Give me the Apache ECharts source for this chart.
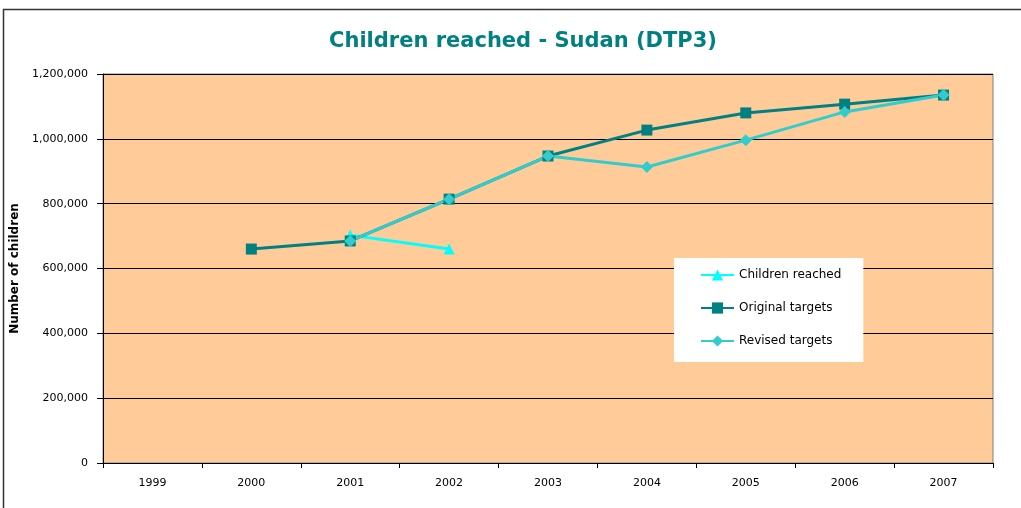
<!DOCTYPE html>
<html>
<head>
<meta charset="utf-8">
<script src="https://cdn.jsdelivr.net/npm/echarts@6/dist/echarts.min.js"></script>
<style>
  html, body { margin: 0; padding: 0; background: #fff; }
  #root { width: 1021px; height: 508px; }
</style>
</head>
<body>
<div id="root"></div>
<script>
const years = ['1999', '2000', '2001', '2002', '2003', '2004', '2005', '2006', '2007']
// 读图估计的数值
const childrenReached = [null, null, 703000, 660000, null, null, null, null, null]
const originalTargets = [null, 660000, 685000, 814000, 947000, 1027000, 1080000, 1107000, 1135000]
const revisedTargets = [null, null, 685000, 814000, 947000, 913000, 996000, 1083000, 1135000]

const font = '"DejaVu Sans", Verdana, sans-serif'

const myChart = echarts.init(document.getElementById('root'))

const option = {
  animation: false,
  textStyle: { fontFamily: font },
  graphic: [{
    type: 'rect',
    shape: { x: 3.5, y: 9.5, width: 1100, height: 600 },
    style: { fill: null, stroke: '#333', lineWidth: 1.5 },
    silent: true
  }],
  title: {
    text: 'Children reached - Sudan (DTP3)',
    left: 518,
    top: 26,
    textAlign: 'center',
    textStyle: { color: '#008080', fontSize: 21, fontWeight: 'bold', fontFamily: font }
  },
  grid: {
    left: 103,
    right: 28,
    top: 74,
    bottom: 45,
    show: true,
    backgroundColor: '#FFCC99',
    borderColor: '#808080',
    borderWidth: 1
  },
  legend: {
    orient: 'vertical',
    left: 674,
    top: 258,
    backgroundColor: '#fff',
    padding: [11, 22, 15, 26],
    itemGap: 21,
    itemWidth: 33,
    itemHeight: 14,
    textStyle: { fontSize: 12, color: '#000', fontFamily: font },
    data: ['Children reached', 'Original targets', 'Revised targets']
  },
  xAxis: {
    type: 'category',
    data: years,
    axisLine: { lineStyle: { color: '#000', width: 1 } },
    axisTick: { show: true, length: 5, lineStyle: { color: '#000' } },
    axisLabel: { color: '#000', fontSize: 11, margin: 15 }
  },
  yAxis: {
    type: 'value',
    min: 0,
    max: 1200000,
    interval: 200000,
    name: 'Number of children',
    nameLocation: 'middle',
    nameGap: 80,
    nameTextStyle: { fontSize: 12, fontWeight: 'bold', color: '#000' },
    axisLine: { show: true, lineStyle: { color: '#000', width: 1 } },
    axisTick: { show: true, length: 6, lineStyle: { color: '#000' } },
    axisLabel: {
      color: '#000',
      fontSize: 11,
      margin: 15,
      formatter: (v) => v.toLocaleString('en-US')
    },
    splitLine: { lineStyle: { color: '#000', width: 1 } }
  },
  series: [
    {
      name: 'Children reached',
      type: 'line',
      data: childrenReached,
      symbol: 'triangle',
      symbolSize: 11,
      color: '#00FFFF',
      lineStyle: { width: 3, color: '#00FFFF' },
      itemStyle: { color: '#00FFFF' }
    },
    {
      name: 'Original targets',
      type: 'line',
      data: originalTargets,
      symbol: 'rect',
      symbolSize: 11,
      color: '#008080',
      lineStyle: { width: 3, color: '#008080' },
      itemStyle: { color: '#008080' }
    },
    {
      name: 'Revised targets',
      type: 'line',
      data: revisedTargets,
      symbol: 'diamond',
      symbolSize: 12,
      color: '#33CCCC',
      lineStyle: { width: 3, color: '#33CCCC' },
      itemStyle: { color: '#33CCCC' }
    }
  ]
}

myChart.setOption(option)
</script>
</body>
</html>
